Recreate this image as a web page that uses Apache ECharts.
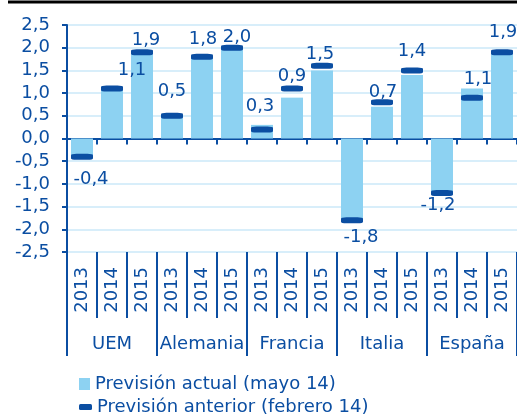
<!DOCTYPE html>
<html>
<head>
<meta charset="utf-8">
<script src="https://cdn.jsdelivr.net/npm/echarts@6/dist/echarts.min.js"></script>
<style>
  html, body { margin: 0; padding: 0; background: #fff; }
  #chart { width: 517px; height: 418px; }
</style>
</head>
<body>
<div id="chart"></div>
<script>
// Years shown under each country group
const years = ['2013', '2014', '2015',
               '2013', '2014', '2015',
               '2013', '2014', '2015',
               '2013', '2014', '2015',
               '2013', '2014', '2015'];
const groups = ['UEM', 'Alemania', 'Francia', 'Italia', 'España'];

// Current forecast (May 14) and previous forecast (February 14)
const actual   = [-0.4, 1.1, 1.9,  0.5, 1.8, 2.0,  0.3, 0.9, 1.5,  -1.8, 0.7, 1.4,  -1.2, 1.1, 1.9];
const previous = [-0.4, 1.1, 1.9,  0.5, 1.8, 2.0,  0.2, 1.1, 1.6,  -1.8, 0.8, 1.5,  -1.2, 0.9, 1.9];

const seriesNames = ['Previsión actual (mayo 14)', 'Previsión anterior (febrero 14)'];

// Hand-placed nudges for the value labels so they don't collide
const labelNudge = [[9, 9], [20, -4], [4, 2], [0, -10], [1, -3], [5, 4], [-2, -5], [0, -7],
                    [-2, -2], [9, 3], [1, 0], [0, -10], [-4, -2], [6, 5], [1, -6]];

const NAVY = '#0b4ea2';
const LIGHT = '#8dd2f2';
const GRID = '#cbe9f8';
const FONT = 'DejaVu Sans';

const fmt = v => Number(v).toFixed(1).replace('.', ',');

const chart = echarts.init(document.getElementById('chart'), null, { renderer: 'canvas' });

chart.setOption({
  animation: false,
  textStyle: { fontFamily: FONT },
  grid: { left: 67, right: 0, top: 25, bottom: 166, containLabel: false },
  graphic: [{
    type: 'line',
    shape: { x1: 8, y1: 2, x2: 517, y2: 2 },
    style: { stroke: '#000', lineWidth: 3 }
  }],
  legend: [{
    data: [{ name: seriesNames[0], icon: 'rect' }],
    left: 74, top: 370, itemWidth: 11, itemHeight: 12, itemGap: 0,
    selectedMode: false,
    textStyle: { color: NAVY, fontSize: 18, fontFamily: FONT }
  }, {
    data: [{ name: seriesNames[1], icon: 'roundRect' }],
    left: 74, top: 393, itemWidth: 13, itemHeight: 6, itemGap: 0,
    selectedMode: false,
    textStyle: { color: NAVY, fontSize: 18, fontFamily: FONT }
  }],
  xAxis: [{
    // year labels and short separators below the plot
    type: 'category', data: years, position: 'bottom',
    axisLine: { show: false, onZero: false },
    axisTick: { show: true, interval: 0, length: 66, lineStyle: { color: NAVY, width: 2 } },
    axisLabel: { interval: 0, rotate: 90, margin: 15, color: NAVY, fontSize: 18, fontFamily: FONT },
    splitLine: { show: false }
  }, {
    // the zero line
    type: 'category', data: years, position: 'bottom',
    axisLine: { show: true, onZero: true, lineStyle: { color: NAVY, width: 2 } },
    axisTick: { show: true, interval: 0, length: 6, lineStyle: { color: NAVY, width: 2 } },
    axisLabel: { show: false },
    splitLine: { show: false }
  }, {
    // country groups with long separators
    type: 'category', data: groups, position: 'bottom',
    axisLine: { show: false, onZero: false },
    axisTick: { show: true, interval: 0, length: 104, lineStyle: { color: NAVY, width: 2 } },
    axisLabel: { interval: 0, margin: 83, color: NAVY, fontSize: 18, fontFamily: FONT },
    splitLine: { show: false }
  }],
  yAxis: {
    type: 'value', min: -2.5, max: 2.5, interval: 0.5,
    axisLine: { show: true, lineStyle: { color: NAVY, width: 2 } },
    axisTick: { show: true, length: 5, lineStyle: { color: NAVY, width: 2 } },
    axisLabel: { margin: 17, color: NAVY, fontSize: 18, fontFamily: FONT, formatter: fmt },
    splitLine: { show: true, lineStyle: { color: GRID, width: 1.5 } }
  },
  series: [{
    name: seriesNames[0],
    type: 'bar',
    xAxisIndex: 0,
    barWidth: 22,
    z: 2,
    itemStyle: { color: LIGHT },
    data: actual.map((v, i) => ({
      value: v,
      label: {
        show: true,
        position: v < 0 ? 'bottom' : 'top',
        offset: labelNudge[i],
        formatter: p => fmt(p.value),
        color: NAVY, fontSize: 18, fontFamily: FONT
      }
    }))
  }, {
    name: seriesNames[1],
    type: 'scatter',
    xAxisIndex: 0,
    z: 3,
    symbol: 'roundRect',
    symbolSize: [22, 6],
    itemStyle: { color: NAVY, opacity: 1 },
    data: previous
  }]
});
</script>
</body>
</html>
